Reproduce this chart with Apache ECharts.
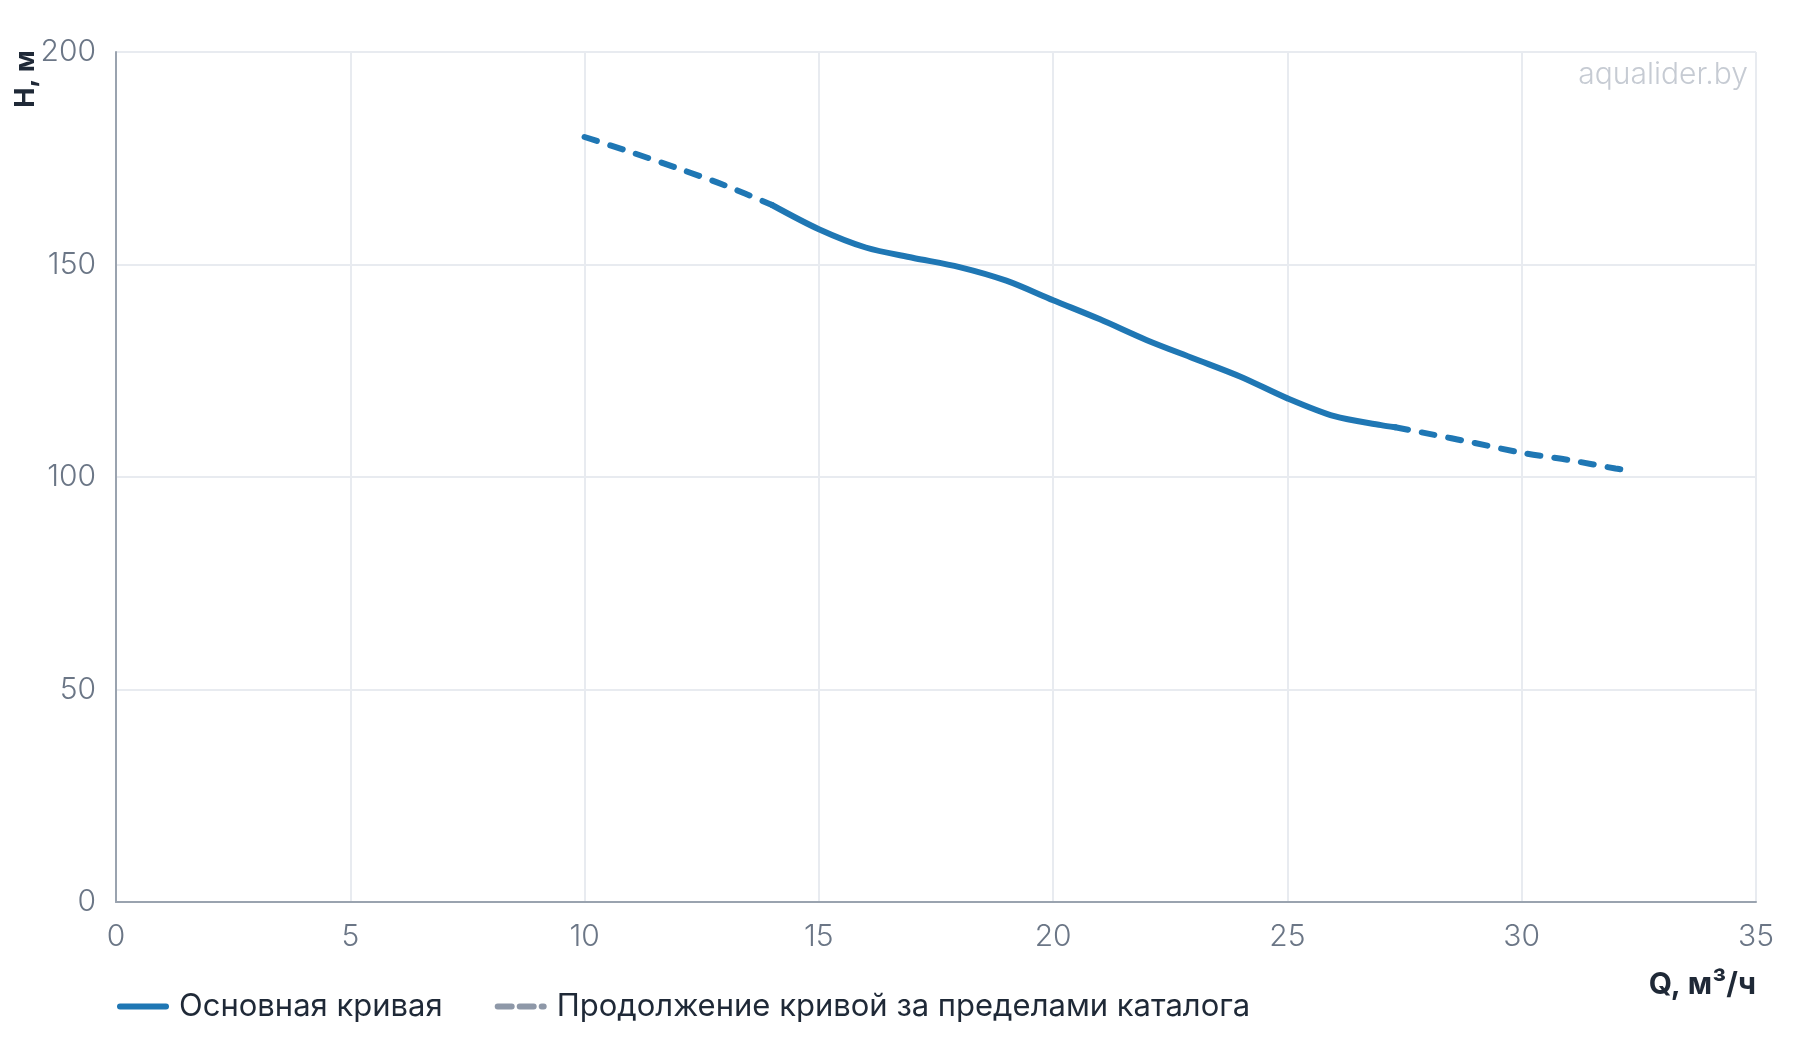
<!DOCTYPE html>
<html>
<head>
<meta charset="utf-8">
<script src="https://cdn.jsdelivr.net/npm/echarts@6/dist/echarts.min.js"></script>
<style>html,body{margin:0;padding:0;background:#fff}#c{width:1800px;height:1040px}</style>
</head>
<body>
<div id="c"></div>
<script>
var xTicks = [0, 5, 10, 15, 20, 25, 30, 35];
var yTicks = [0, 50, 100, 150, 200];
var headQ = [10, 11, 12, 13, 14];
var headH = [180, 176.4, 172.6, 168.6, 164];
var mainQ = [14, 15, 16, 17, 18, 19, 20, 21, 22, 23, 24, 25, 26, 27, 27.3];
var mainH = [164, 158.3, 154, 151.6, 149.4, 146.2, 141.6, 137.1, 132.2, 127.9, 123.6, 118.5, 114.3, 112.2, 111.7];
var tailQ = [27.3, 28, 29, 30, 31, 32, 32.3];
var tailH = [111.7, 110.2, 108, 105.7, 104, 102, 101.5];
var nameMain = 'Основная кривая';
var nameExt = 'Продолжение кривой за пределами каталога';

function pairs(a, b) { return a.map(function (v, i) { return [v, b[i]]; }); }

var FONT = 'Inter';
var blue = '#1f77b4';
var LW = 6;
var chart = echarts.init(document.getElementById('c'), null, { renderer: 'canvas' });
chart.setOption({
  animation: false,
  textStyle: { fontFamily: FONT },
  grid: { left: 116, right: 44, top: 52, bottom: 138, containLabel: false },
  xAxis: {
    type: 'value', min: xTicks[0], max: xTicks[xTicks.length - 1], interval: 5,
    axisLine: { show: true, lineStyle: { color: '#9aa3af', width: 2 } },
    axisTick: { show: false },
    axisLabel: { color: '#6b7686', fontSize: 30, fontWeight: 300, fontFamily: FONT, margin: 20 },
    splitLine: { show: true, lineStyle: { color: '#e8ebf0', width: 2 } },
    name: 'Q, м³/ч', nameLocation: 'end', nameGap: 0,
    nameTextStyle: { color: '#1f2937', fontSize: 30, fontWeight: 'bold', fontFamily: FONT, align: 'right', verticalAlign: 'top', padding: [68, 0, 0, 0] }
  },
  yAxis: {
    type: 'value', min: yTicks[0], max: yTicks[yTicks.length - 1], interval: 50,
    axisLine: { show: true, lineStyle: { color: '#9aa3af', width: 2 } },
    axisTick: { show: false },
    axisLabel: { color: '#6b7686', fontSize: 30, fontWeight: 300, fontFamily: FONT, margin: 20 },
    splitLine: { show: true, lineStyle: { color: '#e8ebf0', width: 2 } }
  },
  legend: {
    left: 112, top: 986, itemWidth: 46, itemHeight: 14, itemGap: 52,
    textStyle: { color: '#1f2937', fontSize: 31, fontFamily: FONT, padding: [0, 0, 0, 8] },
    data: [
      { name: nameMain, itemStyle: { opacity: 0 }, lineStyle: { color: blue, width: LW, type: 'solid', cap: 'round' } },
      { name: nameExt, itemStyle: { opacity: 0 }, lineStyle: { color: '#8e98a8', width: LW, type: [14, 8], cap: 'round' } }
    ]
  },
  graphic: [{
    type: 'text', right: 52, top: 60,
    style: { text: 'aqualider.by', fill: '#c6cbd3', fontSize: 30, fontFamily: FONT, fontWeight: 300 }
  }, {
    type: 'text', x: 26, y: 79, rotation: Math.PI / 2,
    style: { text: 'H, м', fill: '#1f2937', fontSize: 27, fontWeight: 'bold', fontFamily: FONT, align: 'center', verticalAlign: 'middle' }
  }],
  series: [
    { name: nameExt, type: 'line', data: pairs(headQ, headH), smooth: 0.3, symbol: 'none', showSymbol: false,
      lineStyle: { color: blue, width: LW, type: [13, 14], cap: 'round' }, itemStyle: { color: blue } },
    { name: nameMain, type: 'line', data: pairs(mainQ, mainH), smooth: 0.3, symbol: 'none', showSymbol: false,
      lineStyle: { color: blue, width: LW, cap: 'round' }, itemStyle: { color: blue } },
    { name: nameExt, type: 'line', data: pairs(tailQ, tailH), smooth: 0.3, symbol: 'none', showSymbol: false,
      lineStyle: { color: blue, width: LW, type: [13, 14], cap: 'round' }, itemStyle: { color: blue } }
  ]
});
</script>
</body>
</html>
